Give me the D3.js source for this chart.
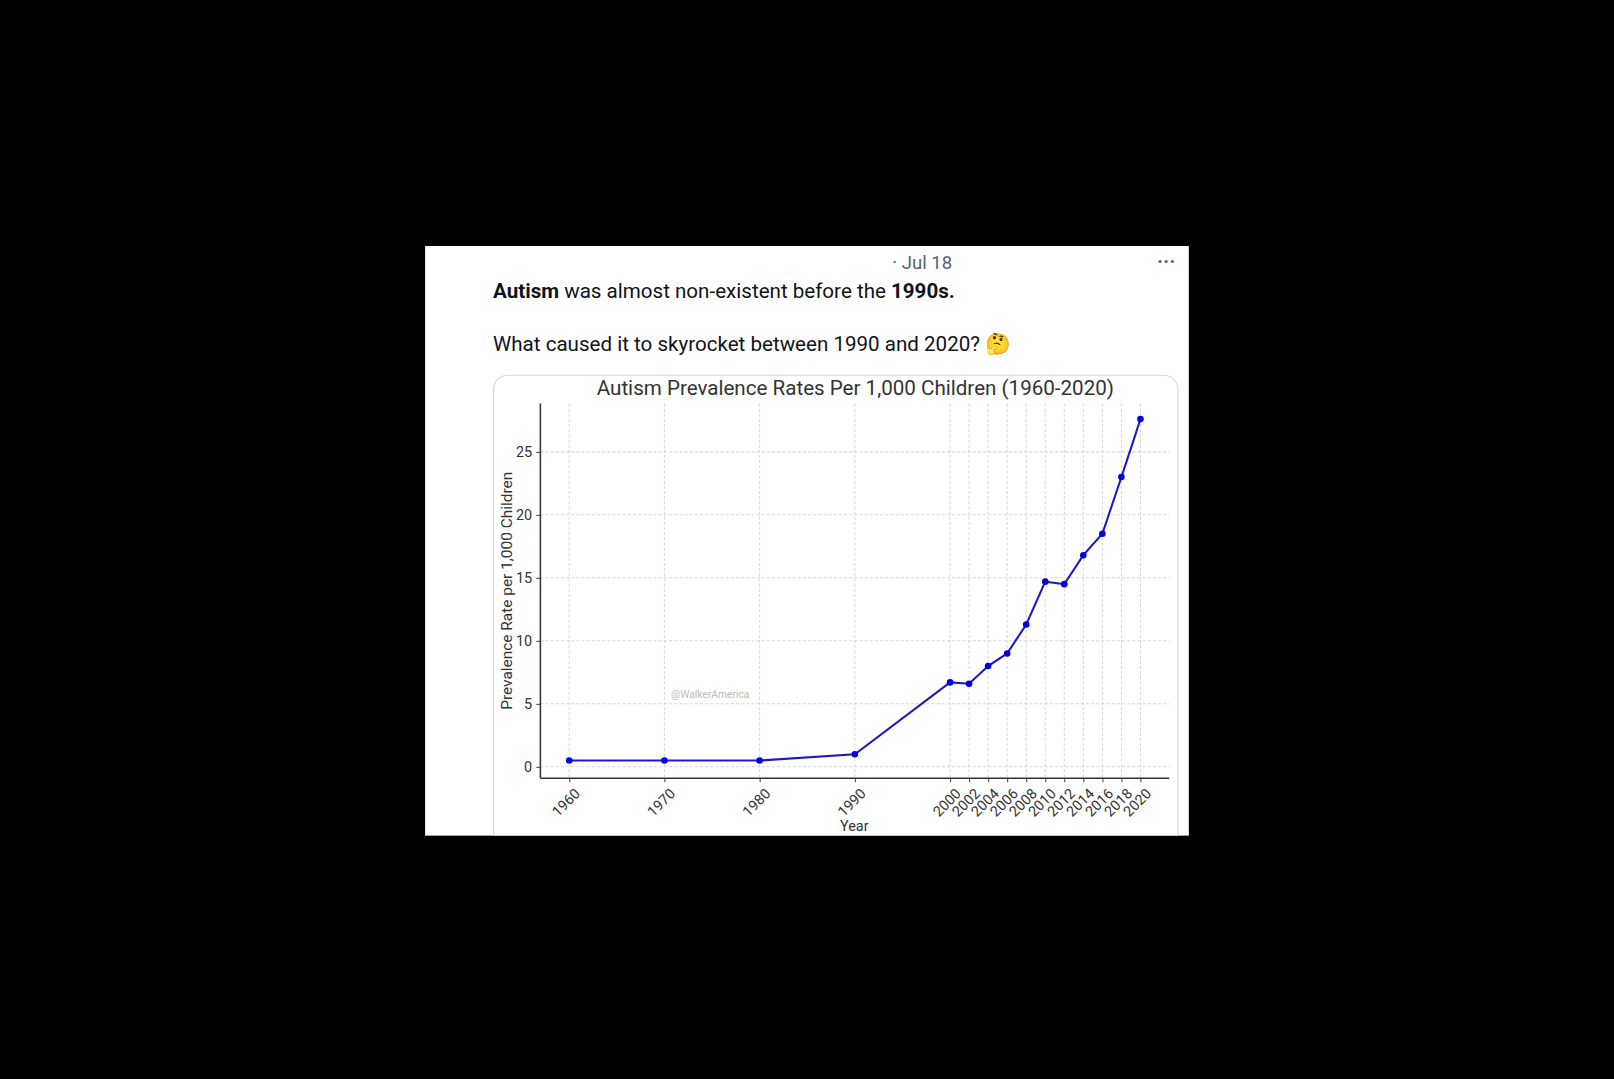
<!DOCTYPE html><html><head><meta charset="utf-8"><script src="https://cdn.jsdelivr.net/npm/d3@7"></script>
<style>body{margin:0;background:#000;}svg{display:block}</style></head><body>
<svg id="c" width="1614" height="1079"></svg>
<script>
const years=[1960,1970,1980,1990,2000,2002,2004,2006,2008,2010,2012,2014,2016,2018,2020];
const values=[0.5,0.5,0.5,1.0,6.7,6.6,8.0,9.0,11.3,14.7,14.5,16.8,18.5,23.0,27.6];
const yTicks=[0,5,10,15,20,25];
const svg=d3.select("#c").append("g").attr("transform","scale(1.0293)");
svg.append("rect").attr("x",413).attr("y",239).attr("width",742).attr("height",573).attr("fill","#fff");
const F="Roboto, 'Open Sans', sans-serif";
svg.append("text").attr("x",925).attr("y",261).attr("text-anchor","end").attr("font-family",F).attr("font-size",18).attr("fill","#536471").text("· Jul 18");
svg.append("text").attr("x",1133).attr("y",260).attr("text-anchor","middle").attr("font-family",F).attr("font-size",20).attr("font-weight","bold").attr("fill","#536471").text("···");
const t1=svg.append("text").attr("x",479).attr("y",290).attr("font-family",F).attr("font-size",20).attr("fill","#0f1419");
t1.append("tspan").attr("font-weight","bold").text("Autism");
t1.append("tspan").text(" was almost non-existent before the ");
t1.append("tspan").attr("font-weight","bold").text("1990s.");
svg.append("text").attr("x",479).attr("y",341).attr("font-family",F).attr("font-size",20).attr("fill","#0f1419").text("What caused it to skyrocket between 1990 and 2020? 🤔");
svg.append("rect").attr("x",479.5).attr("y",364.5).attr("width",665).attr("height",470).attr("rx",14).attr("fill","#fff").attr("stroke","#cfd9de");
svg.append("rect").attr("x",413).attr("y",812).attr("width",742).attr("height",30).attr("fill","#000");
const x=d3.scaleLinear().domain([1960,2020]).range([553,1108]);
const y=d3.scaleLinear().domain([0,25]).range([745,439]);
const L=525,R=1136,T=392,B=756;
const g=svg.append("g");
years.forEach(v=>g.append("line").attr("x1",x(v)).attr("x2",x(v)).attr("y1",T).attr("y2",B).attr("stroke","#d8d8d8").attr("stroke-dasharray","3,2"));
yTicks.forEach(v=>g.append("line").attr("x1",L).attr("x2",R).attr("y1",y(v)).attr("y2",y(v)).attr("stroke","#d8d8d8").attr("stroke-dasharray","3,2"));
const ya=svg.append("g").attr("transform",`translate(${L},0)`).call(d3.axisLeft(y).tickValues(yTicks).tickSize(4).tickPadding(4));
ya.select(".domain").remove();
ya.selectAll("text").attr("font-family",F).attr("font-size",14).attr("fill","#333");
ya.selectAll("line").attr("stroke","#444");
const xa=svg.append("g").attr("transform",`translate(0,${B})`).call(d3.axisBottom(x).tickValues(years).tickFormat(d3.format("d")).tickSize(4));
xa.select(".domain").remove();
xa.selectAll("line").attr("stroke","#444");
xa.selectAll("text").attr("font-family",F).attr("font-size",14).attr("fill","#333").attr("text-anchor","end").attr("dy",0).attr("transform","translate(6,11) rotate(-45)");
svg.append("line").attr("x1",L).attr("x2",L).attr("y1",T).attr("y2",B).attr("stroke","#333").attr("stroke-width",1.5);
svg.append("line").attr("x1",L).attr("x2",R).attr("y1",B).attr("y2",B).attr("stroke","#333").attr("stroke-width",1.5);
svg.append("text").attr("x",830).attr("y",807).attr("text-anchor","middle").attr("font-family",F).attr("font-size",14).attr("fill","#333").text("Year");
svg.append("text").attr("transform","translate(497,574) rotate(-90)").attr("text-anchor","middle").attr("font-family",F).attr("font-size",15).attr("fill","#333").text("Prevalence Rate per 1,000 Children");
svg.append("text").attr("x",831).attr("y",384).attr("text-anchor","middle").attr("font-family",F).attr("font-size",20).attr("fill","#333").text("Autism Prevalence Rates Per 1,000 Children (1960-2020)");
svg.append("text").attr("x",690).attr("y",678).attr("text-anchor","middle").attr("font-family",F).attr("font-size",10).attr("fill","#bbb").text("@WalkerAmerica");
const data=years.map((d,i)=>[d,values[i]]);
svg.append("path").datum(data).attr("d",d3.line().x(d=>x(d[0])).y(d=>y(d[1]))).attr("fill","none").attr("stroke","#1a1ac8").attr("stroke-width",2);
svg.selectAll("circle.p").data(data).enter().append("circle").attr("cx",d=>x(d[0])).attr("cy",d=>y(d[1])).attr("r",3.2).attr("fill","#0000dd");
</script></body></html>
